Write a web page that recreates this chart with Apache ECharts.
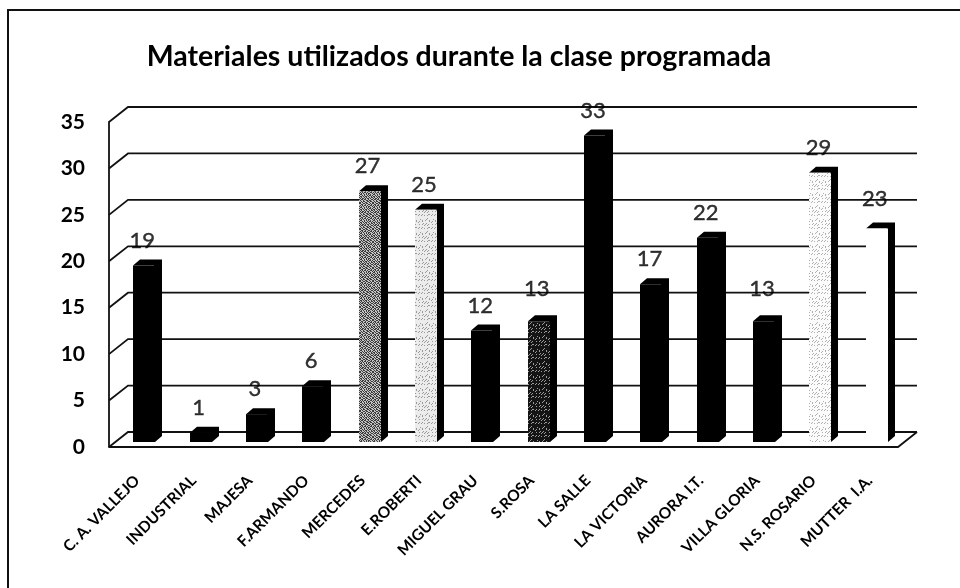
<!DOCTYPE html>
<html>
<head>
<meta charset="utf-8">
<style>
  html, body { margin: 0; padding: 0; background: #fff; }
  #chart { width: 960px; height: 588px; }
</style>
<script src="https://cdn.jsdelivr.net/npm/echarts@6/dist/echarts.min.js"></script>
</head>
<body>
<div id="chart"></div>
<script>
const chartTitle = 'Materiales utilizados durante la clase programada'
const categories = ['C. A. VALLEJO', 'INDUSTRIAL', 'MAJESA', 'F.ARMANDO', 'MERCEDES', 'E.ROBERTI', 'MIGUEL GRAU', 'S.ROSA', 'LA SALLE', 'LA VICTORIA', 'AURORA I.T.', 'VILLA GLORIA', 'N.S. ROSARIO', 'MUTTER  I.A.']
const values = [19, 1, 3, 6, 27, 25, 12, 13, 33, 17, 22, 13, 29, 23]
const yTicks = [0, 5, 10, 15, 20, 25, 30, 35]

// relleno de cada barra, en el mismo orden que categories
const barFillNames = ['black', 'black', 'black', 'black', 'midSpeckle', 'lightSpeckle', 'black', 'darkSpeckle', 'black', 'black', 'black', 'black', 'paleSpeckle', 'white']

// matriz fija para el punteado
const speckleBits = [
  '1001011010010',
  '0110100101101',
  '1010010110100',
  '0101101001011',
  '1100100110110',
  '0011011001001',
  '1001101100101',
  '0110010011010',
  '1011001011001',
  '0100110100110',
  '1101001101010',
  '0010110010101',
  '1010101001100'
]

function speckle(dark, light, invert) {
  const canvas = document.createElement('canvas')
  canvas.width = 13
  canvas.height = 13
  const ctx = canvas.getContext('2d')
  speckleBits.forEach((row, y) => {
    row.split('').forEach((bit, x) => {
      const on = invert ? (bit === '1' && (x + y) % 3 === 0) : bit === '1'
      ctx.fillStyle = on ? dark : light
      ctx.fillRect(x, y, 1, 1)
    })
  })
  return { image: canvas, repeat: 'repeat' }
}

const fills = {
  black: '#000000',
  white: '#ffffff',
  midSpeckle: speckle('#3c3c3c', '#c4c4c4'),
  lightSpeckle: speckle('#9a9a9a', '#ececec', true),
  darkSpeckle: speckle('#9a9a9a', '#141414', true),
  paleSpeckle: speckle('#b0b0b0', '#fbfbfb', true)
}

// profundidad del grafico (pared de fondo respecto al plano frontal)
const wallDx = 19
const wallDy = -15
// las barras van un poco metidas en el piso
const barDx = 7
const barBaseDy = -5
const barWidth = 22
const barSideDx = 7
const barSideDy = -6
// estas etiquetas van algo mas altas en el original (por indice de barra)
const labelLift = { 7: 7, 11: 7, 13: 5 }

const myChart = echarts.init(document.getElementById('chart'), null, { renderer: 'canvas' })

function renderWall(params, api) {
  const v = api.value(0)
  const left = api.coord([0, v])
  const size = api.size([1, 0])
  const x0 = left[0] - size[0] / 2
  const x1 = x0 + size[0] * categories.length
  const y = left[1]
  const points = [[x0, y], [x0 + wallDx, y + wallDy], [x1 + wallDx, y + wallDy]]
  const children = [{
    type: 'polyline',
    shape: { points },
    style: { stroke: '#111', lineWidth: 1.8, fill: null }
  }]
  if (v === 0) {
    children.push({
      type: 'polyline',
      shape: { points: [[x0, y], [x1, y], [x1 + wallDx, y + wallDy]] },
      style: { stroke: '#111', lineWidth: 1.8, fill: null }
    })
  }
  return { type: 'group', children }
}

function renderBar(params, api) {
  const idx = api.value(0)
  const top = api.coord([idx, api.value(1)])
  const base = api.coord([idx, 0])
  const xl = Math.round(base[0] + barDx - barWidth / 2)
  const xr = xl + barWidth
  const yb = base[1] + barBaseDy
  const yt = top[1] + barBaseDy
  const sx = barSideDx
  const sy = barSideDy
  return {
    type: 'group',
    children: [
      {
        type: 'polygon',
        shape: { points: [[xl, yt], [xl + sx, yt + sy], [xr + sx, yt + sy], [xr + sx, yb + sy], [xr, yb], [xr - 1, yt]] },
        style: { fill: '#000' }
      },
      {
        type: 'rect',
        shape: { x: xl, y: yt, width: barWidth, height: yb - yt },
        style: { fill: fills[barFillNames[idx]] }
      }
    ]
  }
}

const option = {
  animation: false,
  backgroundColor: '#fff',
  textStyle: { fontFamily: 'Lato' },
  title: {
    text: chartTitle,
    left: 454,
    top: 37,
    textAlign: 'center',
    textStyle: { fontFamily: 'Lato', fontSize: 28.5, fontWeight: 'bold', color: '#000' }
  },
  // el marco del original solo se ve arriba y a la izquierda
  graphic: [{
    type: 'rect',
    shape: { x: 8, y: 10, width: 1000, height: 700 },
    style: { fill: null, stroke: '#111', lineWidth: 2 },
    silent: true
  }],
  grid: { left: 109, top: 122, width: 789, height: 325 },
  xAxis: {
    type: 'category',
    data: categories,
    axisLine: { show: false },
    axisTick: { show: false },
    axisLabel: {
      interval: 0,
      rotate: 45,
      margin: 31,
      fontSize: 15.5,
      fontWeight: 'bold',
      color: '#000'
    }
  },
  yAxis: {
    type: 'value',
    min: 0,
    max: 35,
    interval: 5,
    axisLine: { show: true, lineStyle: { color: '#111', width: 1.8 } },
    axisTick: { show: false },
    splitLine: { show: false },
    axisLabel: { margin: 24, fontSize: 21, fontWeight: 'bold', color: '#000', padding: [4, 0, 0, 0] }
  },
  series: [
    {
      type: 'custom',
      coordinateSystem: 'cartesian2d',
      renderItem: renderWall,
      silent: true,
      z: 1,
      data: yTicks.map((v) => [v]),
      encode: { y: 0 }
    },
    {
      type: 'custom',
      coordinateSystem: 'cartesian2d',
      renderItem: renderBar,
      silent: true,
      z: 2,
      data: values.map((v, i) => [i, v]),
      encode: { x: 0, y: 1 }
    },
    {
      // etiquetas de valor, sin marca visible
      type: 'scatter',
      symbolSize: 0,
      z: 3,
      silent: true,
      data: values.map((v, i) => ({
        value: [i, v],
        label: { offset: [5, -(labelLift[i] || 0)] }
      })),
      label: {
        show: true,
        position: 'top',
        distance: 19,
        fontSize: 22,
        color: '#000',
        textBorderColor: '#000',
        textBorderWidth: 0.4,
        formatter: (p) => p.value[1]
      }
    }
  ]
}

myChart.setOption(option)
</script>
</body>
</html>
